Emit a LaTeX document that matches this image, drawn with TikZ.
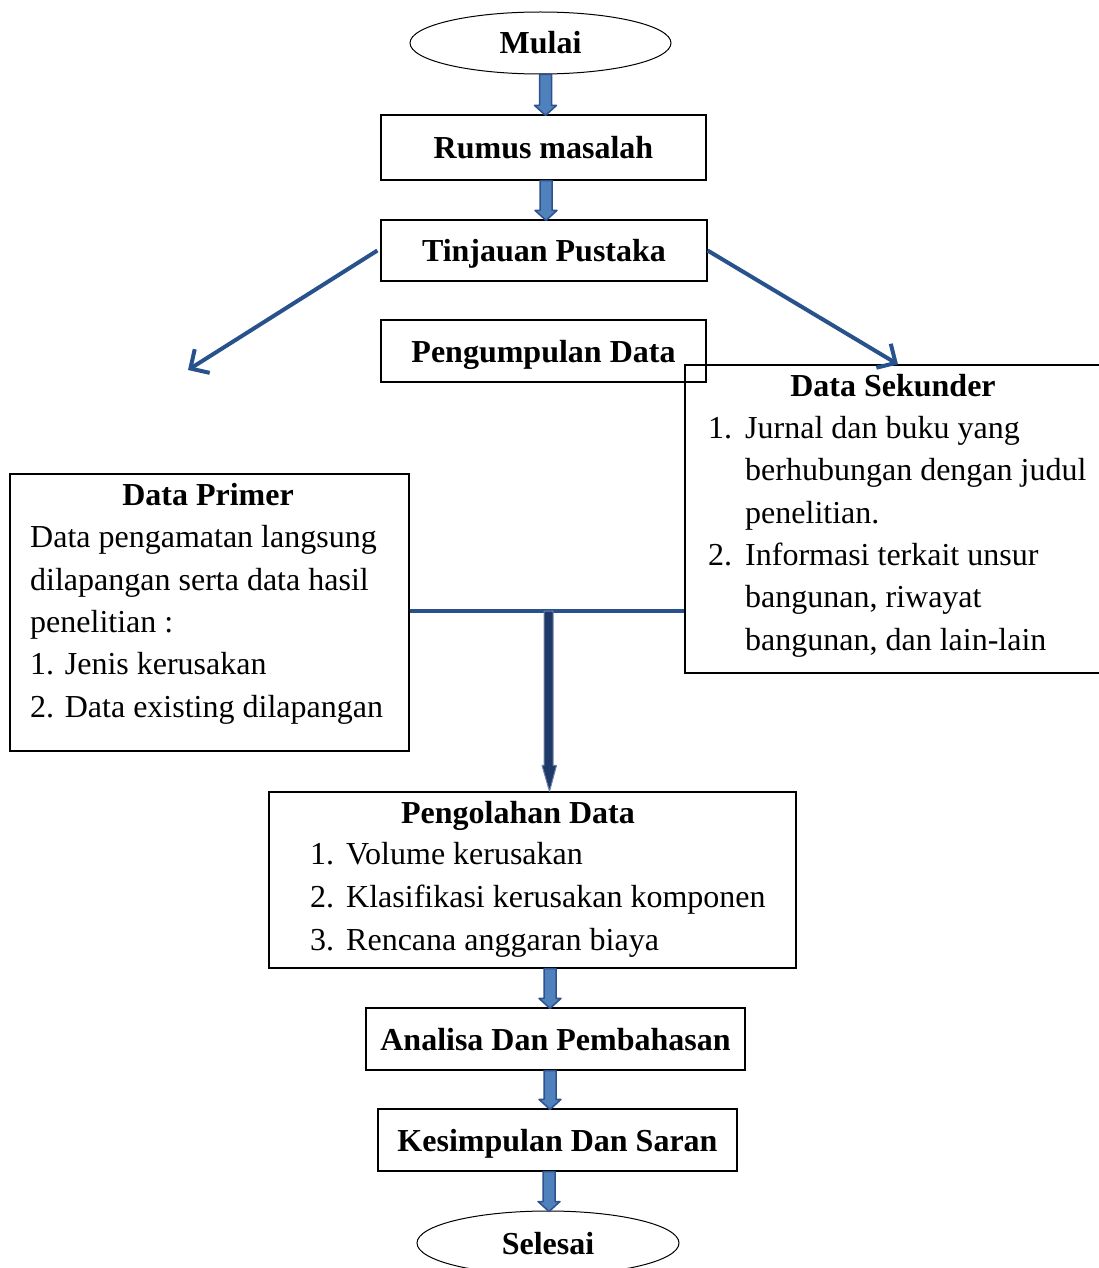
\documentclass[tikz,border=0pt]{standalone}
\usepackage{fontspec}
\setmainfont{Liberation Serif}
\usetikzlibrary{arrows.meta,shapes.geometric,calc}
\definecolor{bafill}{RGB}{79,129,189}
\definecolor{badraw}{RGB}{47,82,143}
\definecolor{navyfill}{RGB}{31,58,105}
\definecolor{navyedge}{RGB}{110,130,170}
\definecolor{linkblue}{RGB}{40,82,140}
\tikzset{
 box/.style={draw=black, line width=1.2pt, inner sep=0pt, text height=22pt, text depth=0pt, font=\fontsize{32}{38}\selectfont\bfseries},
 oval/.style={ellipse, draw=black, line width=1pt, inner sep=0pt, text height=22pt, text depth=0pt, font=\fontsize{32}{38}\selectfont\bfseries},
 ttl/.style={font=\fontsize{32}{38}\selectfont\bfseries, inner sep=0pt, anchor=base},
 body/.style={font=\fontsize{32}{42.3}\selectfont, align=left, inner sep=0pt, anchor=base west},
 barrowst/.style={fill=bafill, draw=badraw, line width=1.5pt, line join=round},
 navyarrow/.style={fill=navyfill, draw=navyedge, line width=1pt, line join=round},
 link/.style={draw=linkblue, line width=4pt, -{Straight Barb[length=14pt,width=28pt,line width=4pt]}},
 hlink/.style={draw=linkblue, line width=4pt}
}
\newcommand\blockarr[3]{%
 \draw[barrowst] let \p1=(#1.south), \p2=(#2.north) in
 (#3pt-6pt,\y1) -- (#3pt-6pt,\y2+9pt) -- (#3pt-11pt,\y2+9pt) -- (#3pt,\y2-1pt)
 -- (#3pt+11pt,\y2+9pt) -- (#3pt+6pt,\y2+9pt) -- (#3pt+6pt,\y1) -- cycle;}
\begin{document}
\begin{tikzpicture}[x=1pt,y=-1pt]
\useasboundingbox (0,0) rectangle (1099,1268);
\clip (0,0) rectangle (1099,1268);
% nodes
\node[oval, minimum width=261pt, minimum height=62pt] (mulai) at (540.5,43) {Mulai};
\node[box, minimum width=325pt, minimum height=65pt] (rm) at (543.5,147.5) {Rumus masalah};
\node[box, minimum width=326pt, minimum height=61pt] (tp) at (544,250.5) {Tinjauan Pustaka};
\node[box, minimum width=325pt, minimum height=62pt] (pd) at (543.5,351) {Pengumpulan Data};
\node[box, minimum width=426pt, minimum height=308pt] (ds) at (898,519) {};
\node[box, minimum width=399pt, minimum height=277pt] (dp) at (209.5,612.5) {};
\node[box, minimum width=527pt, minimum height=176pt] (po) at (532.5,880) {};
\node[box, minimum width=379pt, minimum height=62pt] (ap) at (555.5,1039) {Analisa Dan Pembahasan};
\node[box, minimum width=359pt, minimum height=62pt] (ks) at (557.5,1140) {Kesimpulan Dan Saran};
\node[oval, minimum width=262pt, minimum height=64pt] (sel) at (548,1243) {Selesai};
% texts
\node[ttl] (dst) at (893,396) {Data Sekunder};
\node[body] (dsb) at (708,650) {\makebox[37pt][l]{1.}Jurnal dan buku yang\\
\hspace*{37pt}berhubungan dengan judul\\
\hspace*{37pt}penelitian.\\
\makebox[37pt][l]{2.}Informasi terkait unsur\\
\hspace*{37pt}bangunan, riwayat\\
\hspace*{37pt}bangunan, dan lain-lain};
\node[ttl] (dpt) at (208,505) {Data Primer};
\node[body] (dpb) at (30,717) {Data pengamatan langsung\\
dilapangan serta data hasil\\
penelitian :\\
1. Jenis kerusakan\\
2. Data existing dilapangan};
\node[ttl] (pot) at (518,823) {Pengolahan Data};
\node[body, font=\fontsize{32}{43}\selectfont] (pob) at (310,950) {\makebox[36pt][l]{1.}Volume kerusakan\\
\makebox[36pt][l]{2.}Klasifikasi kerusakan komponen\\
\makebox[36pt][l]{3.}Rencana anggaran biaya};
% block arrows
\blockarr{mulai}{rm}{545.5}
\blockarr{rm}{tp}{546}
\blockarr{po}{ap}{550}
\blockarr{ap}{ks}{550}
\blockarr{ks}{sel}{549}
% diagonal links
\coordinate (lend) at (188,370);
\draw[link] (tp.west) ++(-3pt,0) -- (lend);
\draw[link] (tp.east) -- (ds.north);
% merge line and arrow
\coordinate (junc) at (548.5,611);
\draw[hlink] (dp.east |- junc) -- (ds.west |- junc);
\draw[navyarrow] let \p1=(junc), \p2=(po.north) in
 (\x1-4.5pt,\y1) -- (\x1-4.5pt,\y2+26pt) -- (\x1-6.5pt,\y2+26pt) -- (\x1+1pt,\y2)
 -- (\x1+8pt,\y2+26pt) -- (\x1+4.5pt,\y2+26pt) -- (\x1+4.5pt,\y1) -- cycle;
\end{tikzpicture}
\end{document}
